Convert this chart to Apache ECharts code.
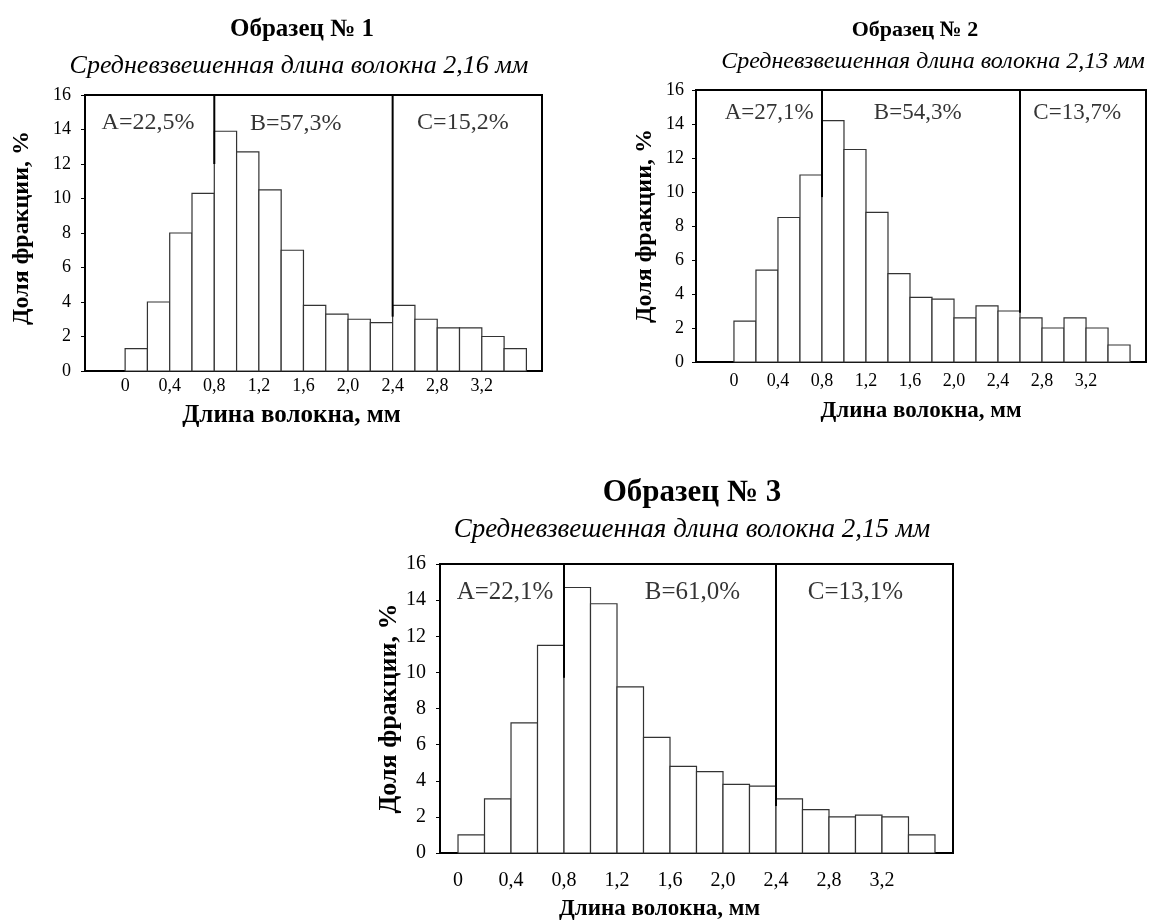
<!DOCTYPE html>
<html>
<head>
<meta charset="utf-8">
<script src="https://cdn.jsdelivr.net/npm/echarts@6/dist/echarts.min.js"></script>
<style>
html,body{margin:0;padding:0;background:#fff;}
#main{width:1150px;height:924px;}
</style>
</head>
<body>
<div id="main"></div>
<script>
// ---- data ----
const BIN = 0.2;
const binStarts = [0, 0.2, 0.4, 0.6, 0.8, 1.0, 1.2, 1.4, 1.6, 1.8, 2.0, 2.2, 2.4, 2.6, 2.8, 3.0, 3.2, 3.4];
const sample1 = [1.3, 4.0, 8.0, 10.3, 13.9, 12.7, 10.5, 7.0, 3.8, 3.3, 3.0, 2.8, 3.8, 3.0, 2.5, 2.5, 2.0, 1.3];
const sample2 = [2.4, 5.4, 8.5, 11.0, 14.2, 12.5, 8.8, 5.2, 3.8, 3.7, 2.6, 3.3, 3.0, 2.6, 2.0, 2.6, 2.0, 1.0];
const sample3 = [1.0, 3.0, 7.2, 11.5, 14.7, 13.8, 9.2, 6.4, 4.8, 4.5, 3.8, 3.7, 3.0, 2.4, 2.0, 2.1, 2.0, 1.0];
const xTickValues = [0, 0.4, 0.8, 1.2, 1.6, 2.0, 2.4, 2.8, 3.2];
const xTickLabels = ['0', '0,4', '0,8', '1,2', '1,6', '2,0', '2,4', '2,8', '3,2'];
const titles = ['Образец № 1', 'Образец № 2', 'Образец № 3'];
const subtitles = ['Средневзвешенная длина волокна 2,16 мм', 'Средневзвешенная длина волокна 2,13 мм', 'Средневзвешенная длина волокна 2,15 мм'];
const fractionLabels = [
  ['A=22,5%', 'B=57,3%', 'C=15,2%'],
  ['A=27,1%', 'B=54,3%', 'C=13,7%'],
  ['A=22,1%', 'B=61,0%', 'C=13,1%']
];
// divider positions (mm) and the value where each divider stops
const dividers = [
  [[0.8, 12.0], [2.4, 3.15]],
  [[0.8, 9.7], [2.6, 2.9]],
  [[0.8, 9.7], [2.4, 2.6]]
];
const xName = 'Длина волокна, мм';
const yName = 'Доля фракции, %';

// ---- layout ----
const FONT = '"Liberation Serif", "Times New Roman", serif';
const panels = [
  {grid: {left: 85, top: 95, width: 457, height: 276}, xmin: -0.36, xmax: 3.74,
   tick: 18, yLabMargin: 14, lab: 24, labPos: [[0.205, 14.4], [1.53, 14.35], [3.03, 14.4]],
   xLabMargin: 6, xNameGap: 32, xNamePad: [0, 44, 0, 0], xNameSize: 25,
   yNameGap: 51, yNamePad: [0, 0, 0, 10], yNameSize: 24,
   title: {x: 302, y: 30, size: 25}, sub: {x: 299, y: 66, size: 26}},
  {grid: {left: 696, top: 90, width: 450, height: 272}, xmin: -0.345, xmax: 3.745,
   tick: 18, yLabMargin: 12, lab: 23, labPos: [[0.32, 14.65], [1.67, 14.65], [3.12, 14.65]],
   xLabMargin: 10, xNameGap: 38, xNamePad: [0, 0, 0, 0], xNameSize: 23,
   yNameGap: 39, yNamePad: [0, 0, 0, 0], yNameSize: 24,
   title: {x: 915, y: 30, size: 22}, sub: {x: 933, y: 62, size: 24}},
  {grid: {left: 440, top: 564, width: 513, height: 289}, xmin: -0.136, xmax: 3.736,
   tick: 20, yLabMargin: 14, lab: 25, labPos: [[0.355, 14.45], [1.77, 14.45], [3.0, 14.45]],
   xLabMargin: 18, xNameGap: 45, xNamePad: [0, 74, 0, 0], xNameSize: 23,
   yNameGap: 35, yNamePad: [0, 0, 0, 0], yNameSize: 26,
   title: {x: 692, y: 493, size: 31}, sub: {x: 692, y: 530, size: 27}}
];
const samples = [sample1, sample2, sample3];

const grids = [], xAxes = [], yAxes = [], series = [], graphics = [];
panels.forEach((p, i) => {
  grids.push(Object.assign({show: true, borderColor: '#000', borderWidth: 2, backgroundColor: 'transparent'}, p.grid));
  xAxes.push({
    type: 'value', gridIndex: i, min: p.xmin, max: p.xmax,
    axisLine: {show: true, onZero: false, lineStyle: {color: '#000', width: 2}},
    axisTick: {show: false},
    splitLine: {show: false},
    axisLabel: {
      customValues: xTickValues, margin: p.xLabMargin,
      color: '#000', fontFamily: FONT, fontSize: p.tick,
      formatter: v => { const k = xTickValues.findIndex(t => Math.abs(t - v) < 1e-6); return k >= 0 ? xTickLabels[k] : ''; }
    },
    name: xName, nameLocation: 'middle', nameGap: p.xNameGap,
    nameTextStyle: {color: '#000', fontFamily: FONT, fontWeight: 'bold', fontSize: p.xNameSize, padding: p.xNamePad}
  });
  yAxes.push({
    type: 'value', gridIndex: i, min: 0, max: 16, interval: 2,
    axisLine: {show: true, onZero: false, lineStyle: {color: '#000', width: 2}},
    axisTick: {show: true, inside: false, length: 4, lineStyle: {color: '#000', width: 1}},
    splitLine: {show: false},
    axisLabel: {color: '#000', fontFamily: FONT, fontSize: p.tick, margin: p.yLabMargin},
    name: yName, nameLocation: 'middle', nameGap: p.yNameGap,
    nameTextStyle: {color: '#000', fontFamily: FONT, fontWeight: 'bold', fontSize: p.yNameSize, padding: p.yNamePad}
  });
  series.push({
    type: 'custom', xAxisIndex: i, yAxisIndex: i, z: 1,
    data: binStarts.map((b, k) => [b, samples[i][k]]),
    renderItem: (params, api) => {
      const x0 = api.value(0), v = api.value(1);
      const a = api.coord([x0, v]);
      const b = api.coord([x0 + BIN, 0]);
      return {type: 'rect', shape: {x: a[0], y: a[1], width: b[0] - a[0], height: b[1] - a[1]},
        style: {fill: '#fff', stroke: '#333', lineWidth: 1.2}};
    },
    silent: true
  });
  dividers[i].forEach(d => {
    series.push({
      type: 'line', xAxisIndex: i, yAxisIndex: i, z: 3,
      data: [[d[0], 16], [d[0], d[1]]],
      symbol: 'none', lineStyle: {color: '#000', width: 2}, silent: true, animation: false
    });
  });
  series.push({
    type: 'scatter', xAxisIndex: i, yAxisIndex: i, z: 4, symbolSize: 0, silent: true,
    data: p.labPos.map((pos, k) => ({value: pos, label: {formatter: fractionLabels[i][k]}})),
    label: {show: true, position: 'inside', color: '#000', fontFamily: FONT, fontSize: p.lab}
  });
  graphics.push({type: 'text', x: p.title.x, y: p.title.y, style: {text: titles[i], fill: '#000',
    font: 'bold ' + p.title.size + 'px ' + FONT, textAlign: 'center', textVerticalAlign: 'middle', verticalAlign: 'middle'}});
  graphics.push({type: 'text', x: p.sub.x, y: p.sub.y, style: {text: subtitles[i], fill: '#000',
    font: 'italic ' + p.sub.size + 'px ' + FONT, textAlign: 'center', textVerticalAlign: 'middle', verticalAlign: 'middle'}});
});

const chart = echarts.init(document.getElementById('main'), null, {renderer: 'canvas'});
chart.setOption({
  backgroundColor: '#fff',
  animation: false,
  grid: grids, xAxis: xAxes, yAxis: yAxes, series: series, graphic: graphics
});
</script>
</body>
</html>
